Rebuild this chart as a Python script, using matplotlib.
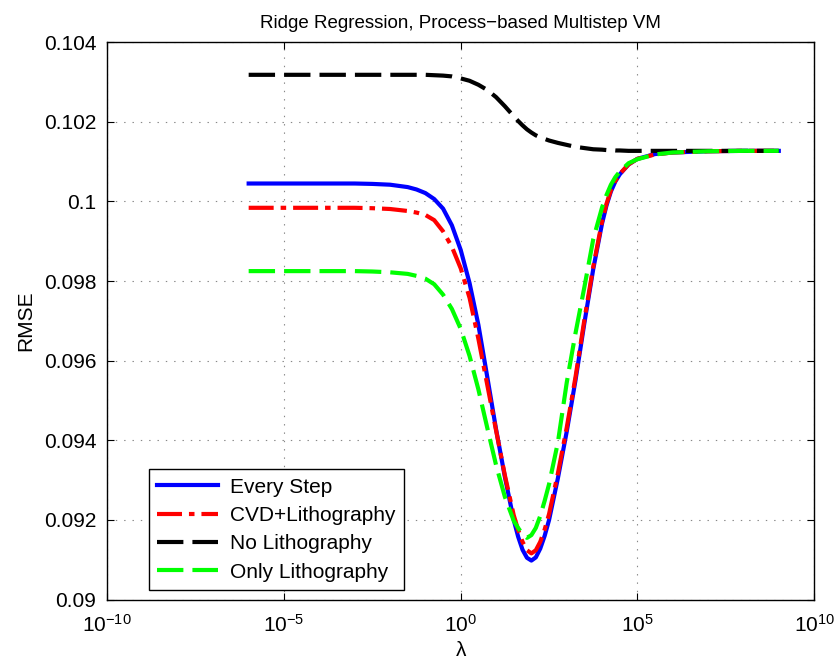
import numpy as np
import matplotlib
matplotlib.use('Agg')
import matplotlib.pyplot as plt

plt.rcParams['font.family'] = ['Liberation Sans', 'DejaVu Sans']
plt.rcParams['mathtext.fontset'] = 'custom'
plt.rcParams['mathtext.rm'] = 'Liberation Sans'
plt.rcParams['mathtext.it'] = 'Liberation Sans:italic'
plt.rcParams['lines.scale_dashes'] = False

# log10(lambda) positions where the curves were read
log_lam = [-6, -5, -4, -3, -2.5, -2, -1.5, -1.25, -1, -0.75, -0.5, -0.25,
           0, 0.25, 0.5, 0.75, 1, 1.25, 1.5, 1.625, 1.75, 1.875,
           2, 2.125, 2.25, 2.375, 2.5, 2.75, 3, 3.25, 3.5, 3.75,
           4, 4.125, 4.25, 4.375, 4.5, 4.75, 5, 5.5, 6, 7, 8, 9]

every_step = [0.10045, 0.10045, 0.10045, 0.10045, 0.10044, 0.10042, 0.10036, 0.10030, 0.10021, 0.10006, 0.09982, 0.09940,
              0.09878, 0.09795, 0.09690, 0.09560, 0.09428, 0.09308, 0.09200, 0.09158, 0.09125, 0.09105,
              0.09098, 0.09106, 0.09128, 0.09160, 0.09200, 0.09305, 0.09422, 0.09552, 0.09695, 0.09830,
              0.09945, 0.09990, 0.10025, 0.10050, 0.10068, 0.10093, 0.10107, 0.10119, 0.10123, 0.10126, 0.10127, 0.10127]

cvd_litho = [0.09984, 0.09984, 0.09984, 0.09984, 0.09983, 0.09981, 0.09976, 0.09972, 0.09966, 0.09953, 0.09925, 0.09886,
             0.09832, 0.09758, 0.09655, 0.09540, 0.09425, 0.09312, 0.09212, 0.09175, 0.09145, 0.09124,
             0.09116, 0.09124, 0.09145, 0.09176, 0.09215, 0.09317, 0.09432, 0.09560, 0.09703, 0.09836,
             0.09950, 0.09994, 0.10028, 0.10052, 0.10069, 0.10093, 0.10107, 0.10118, 0.10123, 0.10126, 0.10127, 0.10127]

no_litho = [0.10318, 0.10318, 0.10318, 0.10318, 0.10318, 0.10318, 0.10318, 0.10318, 0.10318, 0.10317, 0.10316, 0.10314,
            0.10309, 0.10303, 0.10293, 0.10280, 0.10262, 0.10239, 0.10214, 0.10202, 0.10191, 0.10181,
            0.10173, 0.10166, 0.10161, 0.10157, 0.10153, 0.10147, 0.10142, 0.10137, 0.10134, 0.10131,
            0.10130, 0.10129, 0.10129, 0.10128, 0.10128, 0.10127, 0.10127, 0.10127, 0.10127, 0.10127, 0.10127, 0.10127]

only_litho = [0.09825, 0.09825, 0.09825, 0.09825, 0.09824, 0.09822, 0.09818, 0.09813, 0.09806, 0.09792, 0.09766, 0.09730,
              0.09680, 0.09612, 0.09528, 0.09432, 0.09338, 0.09258, 0.09198, 0.09180, 0.09164, 0.09155,
              0.09162, 0.09180, 0.09210, 0.09248, 0.09290, 0.09395, 0.09545, 0.09670, 0.09785, 0.09905,
              0.09985, 0.10016, 0.10042, 0.10061, 0.10075, 0.10096, 0.10106, 0.10118, 0.10123, 0.10126, 0.10127, 0.10127]

y_ticks = [0.09, 0.092, 0.094, 0.096, 0.098, 0.1, 0.102, 0.104]
y_labels = ['0.09', '0.092', '0.094', '0.096', '0.098', '0.1', '0.102', '0.104']
x_ticks = [1e-10, 1e-5, 1e0, 1e5, 1e10]
x_labels = [r'$10^{-10}$', r'$10^{-5}$', r'$10^{0}$', r'$10^{5}$', r'$10^{10}$']

lam = 10.0 ** np.array(log_lam)

fig = plt.figure(figsize=(8.35, 6.64), dpi=100)
ax = fig.add_axes([0.1285, 0.097, 0.8465, 0.8395])

lw = 3.0
ax.plot(lam, every_step, color='#0000ff', lw=lw, label='Every Step')
ax.plot(lam, cvd_litho, color='#ff0000', lw=lw, dashes=(18, 5, 4, 5), label='CVD+Lithography')
ax.plot(lam, no_litho, color='black', lw=lw, dashes=(19, 6.5), label='No Lithography')
ax.plot(lam, only_litho, color='#00ff00', lw=lw, dashes=(19, 6.5), label='Only Lithography')

ax.set_xscale('log')
ax.set_xlim(1e-10, 1e10)
ax.set_ylim(0.09, 0.104)
ax.set_xticks(x_ticks)
ax.set_xticklabels(x_labels)
ax.minorticks_off()
ax.set_yticks(y_ticks)
ax.set_yticklabels(y_labels)
ax.tick_params(direction='in', top=True, right=True, labelsize=15, length=5, width=0.8)
ax.tick_params(axis='y', pad=8)
ax.tick_params(axis='x', pad=10)
ax.grid(True, linestyle=(0, (1, 5)), color='#888888', linewidth=0.8)
for s in ax.spines.values():
    s.set_linewidth(1.0)

ax.set_title('Ridge Regression, Process\u2212based Multistep VM', fontsize=13.5, pad=10)
ax.set_xlabel('\u03bb', fontsize=15, labelpad=4)
ax.set_ylabel('RMSE', fontsize=15, labelpad=6)

leg = ax.legend(loc='lower left', bbox_to_anchor=(0.059, 0.017), fontsize=15,
                fancybox=False, framealpha=1, edgecolor='black', handlelength=2.9,
                borderpad=0.35, labelspacing=0.45, handletextpad=0.6, borderaxespad=0)
leg.get_frame().set_linewidth(1.0)
# widen the left inset of the legend contents like the reference
leg._legend_box.pad = 6

fig.savefig('out.png', dpi=100)
